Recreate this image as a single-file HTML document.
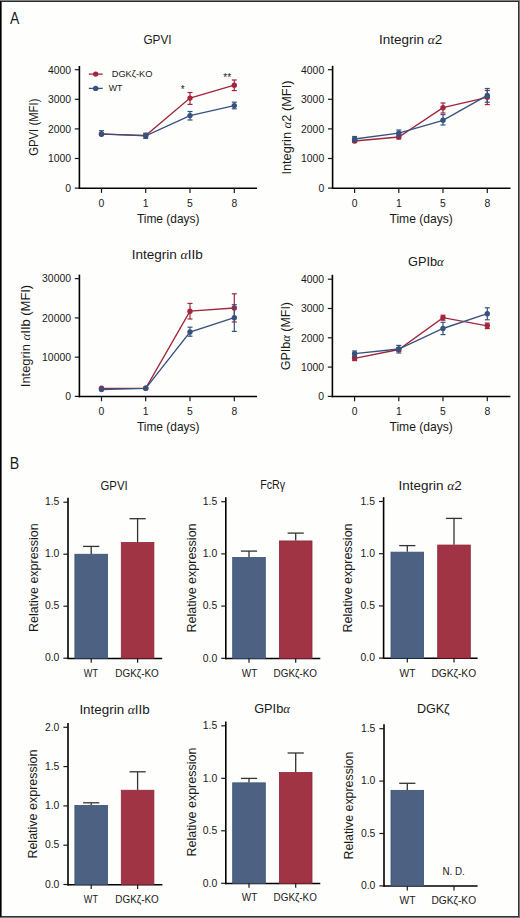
<!DOCTYPE html>
<html><head><meta charset="utf-8"><style>
html,body{margin:0;padding:0;width:520px;height:918px;overflow:hidden;background:#fefefc;}
svg text{font-family:"Liberation Sans", sans-serif;}
</style></head><body>
<svg width="520" height="918" viewBox="0 0 520 918" style="position:absolute;left:0;top:0">
<rect x="0" y="0" width="520" height="918" fill="#fefefc"/>
<rect x="0" y="0" width="1" height="918" fill="#000"/>
<rect x="1" y="0" width="1" height="918" fill="#606060"/>
<rect x="519" y="0" width="1" height="918" fill="#777"/>
<rect x="518" y="0" width="1" height="918" fill="#333"/>
<rect x="0" y="0" width="520" height="1" fill="#808080"/>
<rect x="1" y="1" width="518" height="1" fill="#2b2b2b"/>
<rect x="0" y="917" width="520" height="1" fill="#777"/>
<rect x="1" y="916" width="518" height="1" fill="#333"/>
<line x1="79.40" y1="66.00" x2="79.40" y2="189.00" stroke="#000" stroke-width="1.6"/>
<line x1="78.60" y1="188.30" x2="257.00" y2="188.30" stroke="#000" stroke-width="1.5"/>
<line x1="74.80" y1="188.10" x2="79.40" y2="188.10" stroke="#1a1a1a" stroke-width="1.2"/>
<text x="71.00" y="191.90" font-size="10.4" text-anchor="end" fill="#1a1a1a" >0</text>
<line x1="74.80" y1="158.50" x2="79.40" y2="158.50" stroke="#1a1a1a" stroke-width="1.2"/>
<text x="71.00" y="162.30" font-size="10.4" text-anchor="end" fill="#1a1a1a" >1000</text>
<line x1="74.80" y1="128.90" x2="79.40" y2="128.90" stroke="#1a1a1a" stroke-width="1.2"/>
<text x="71.00" y="132.70" font-size="10.4" text-anchor="end" fill="#1a1a1a" >2000</text>
<line x1="74.80" y1="99.30" x2="79.40" y2="99.30" stroke="#1a1a1a" stroke-width="1.2"/>
<text x="71.00" y="103.10" font-size="10.4" text-anchor="end" fill="#1a1a1a" >3000</text>
<line x1="74.80" y1="69.70" x2="79.40" y2="69.70" stroke="#1a1a1a" stroke-width="1.2"/>
<text x="71.00" y="73.50" font-size="10.4" text-anchor="end" fill="#1a1a1a" >4000</text>
<line x1="101.50" y1="188.10" x2="101.50" y2="192.90" stroke="#1a1a1a" stroke-width="1.2"/>
<text x="101.50" y="206.50" font-size="10.4" text-anchor="middle" fill="#1a1a1a" >0</text>
<line x1="145.70" y1="188.10" x2="145.70" y2="192.90" stroke="#1a1a1a" stroke-width="1.2"/>
<text x="145.70" y="206.50" font-size="10.4" text-anchor="middle" fill="#1a1a1a" >1</text>
<line x1="190.00" y1="188.10" x2="190.00" y2="192.90" stroke="#1a1a1a" stroke-width="1.2"/>
<text x="190.00" y="206.50" font-size="10.4" text-anchor="middle" fill="#1a1a1a" >5</text>
<line x1="234.30" y1="188.10" x2="234.30" y2="192.90" stroke="#1a1a1a" stroke-width="1.2"/>
<text x="234.30" y="206.50" font-size="10.4" text-anchor="middle" fill="#1a1a1a" >8</text>
<path d="M101.50,134.20 L145.70,135.50 L190.00,98.10 L234.30,85.20" fill="none" stroke="#A2263C" stroke-width="1.35"/>
<circle cx="101.50" cy="134.20" r="2.7" fill="#A2263C"/>
<circle cx="145.70" cy="135.50" r="2.7" fill="#A2263C"/>
<line x1="190.00" y1="92.50" x2="190.00" y2="104.40" stroke="#A2263C" stroke-width="1.2"/>
<line x1="187.50" y1="92.50" x2="192.50" y2="92.50" stroke="#A2263C" stroke-width="1.2"/>
<line x1="187.50" y1="104.40" x2="192.50" y2="104.40" stroke="#A2263C" stroke-width="1.2"/>
<circle cx="190.00" cy="98.10" r="2.7" fill="#A2263C"/>
<line x1="234.30" y1="80.00" x2="234.30" y2="90.60" stroke="#A2263C" stroke-width="1.2"/>
<line x1="231.80" y1="80.00" x2="236.80" y2="80.00" stroke="#A2263C" stroke-width="1.2"/>
<line x1="231.80" y1="90.60" x2="236.80" y2="90.60" stroke="#A2263C" stroke-width="1.2"/>
<circle cx="234.30" cy="85.20" r="2.7" fill="#A2263C"/>
<path d="M101.50,133.90 L145.70,135.80 L190.00,115.60 L234.30,105.60" fill="none" stroke="#37527F" stroke-width="1.35"/>
<line x1="101.50" y1="130.70" x2="101.50" y2="135.00" stroke="#37527F" stroke-width="1.2"/>
<line x1="99.00" y1="130.70" x2="104.00" y2="130.70" stroke="#37527F" stroke-width="1.2"/>
<line x1="99.00" y1="135.00" x2="104.00" y2="135.00" stroke="#37527F" stroke-width="1.2"/>
<circle cx="101.50" cy="133.90" r="2.7" fill="#37527F"/>
<line x1="145.70" y1="133.20" x2="145.70" y2="138.40" stroke="#37527F" stroke-width="1.2"/>
<line x1="143.20" y1="133.20" x2="148.20" y2="133.20" stroke="#37527F" stroke-width="1.2"/>
<line x1="143.20" y1="138.40" x2="148.20" y2="138.40" stroke="#37527F" stroke-width="1.2"/>
<circle cx="145.70" cy="135.80" r="2.7" fill="#37527F"/>
<line x1="190.00" y1="111.50" x2="190.00" y2="120.00" stroke="#37527F" stroke-width="1.2"/>
<line x1="187.50" y1="111.50" x2="192.50" y2="111.50" stroke="#37527F" stroke-width="1.2"/>
<line x1="187.50" y1="120.00" x2="192.50" y2="120.00" stroke="#37527F" stroke-width="1.2"/>
<circle cx="190.00" cy="115.60" r="2.7" fill="#37527F"/>
<line x1="234.30" y1="102.20" x2="234.30" y2="108.80" stroke="#37527F" stroke-width="1.2"/>
<line x1="231.80" y1="102.20" x2="236.80" y2="102.20" stroke="#37527F" stroke-width="1.2"/>
<line x1="231.80" y1="108.80" x2="236.80" y2="108.80" stroke="#37527F" stroke-width="1.2"/>
<circle cx="234.30" cy="105.60" r="2.7" fill="#37527F"/>
<line x1="88.80" y1="74.10" x2="102.70" y2="74.10" stroke="#A2263C" stroke-width="1.3"/>
<circle cx="95.7" cy="74.1" r="2.7" fill="#A2263C"/>
<line x1="88.80" y1="88.40" x2="102.70" y2="88.40" stroke="#37527F" stroke-width="1.3"/>
<circle cx="95.7" cy="88.4" r="2.7" fill="#37527F"/>
<text x="182.80" y="93.00" font-size="10" text-anchor="middle" fill="#1a1a1a" >*</text>
<text x="227.20" y="80.50" font-size="10" text-anchor="middle" fill="#1a1a1a" >**</text>
<line x1="332.60" y1="65.80" x2="332.60" y2="189.00" stroke="#000" stroke-width="1.6"/>
<line x1="331.80" y1="188.30" x2="510.50" y2="188.30" stroke="#000" stroke-width="1.5"/>
<line x1="328.00" y1="188.10" x2="332.60" y2="188.10" stroke="#1a1a1a" stroke-width="1.2"/>
<text x="324.20" y="191.90" font-size="10.4" text-anchor="end" fill="#1a1a1a" >0</text>
<line x1="328.00" y1="158.50" x2="332.60" y2="158.50" stroke="#1a1a1a" stroke-width="1.2"/>
<text x="324.20" y="162.30" font-size="10.4" text-anchor="end" fill="#1a1a1a" >1000</text>
<line x1="328.00" y1="128.90" x2="332.60" y2="128.90" stroke="#1a1a1a" stroke-width="1.2"/>
<text x="324.20" y="132.70" font-size="10.4" text-anchor="end" fill="#1a1a1a" >2000</text>
<line x1="328.00" y1="99.30" x2="332.60" y2="99.30" stroke="#1a1a1a" stroke-width="1.2"/>
<text x="324.20" y="103.10" font-size="10.4" text-anchor="end" fill="#1a1a1a" >3000</text>
<line x1="328.00" y1="69.70" x2="332.60" y2="69.70" stroke="#1a1a1a" stroke-width="1.2"/>
<text x="324.20" y="73.50" font-size="10.4" text-anchor="end" fill="#1a1a1a" >4000</text>
<line x1="354.60" y1="188.10" x2="354.60" y2="192.90" stroke="#1a1a1a" stroke-width="1.2"/>
<text x="354.60" y="206.50" font-size="10.4" text-anchor="middle" fill="#1a1a1a" >0</text>
<line x1="398.80" y1="188.10" x2="398.80" y2="192.90" stroke="#1a1a1a" stroke-width="1.2"/>
<text x="398.80" y="206.50" font-size="10.4" text-anchor="middle" fill="#1a1a1a" >1</text>
<line x1="443.00" y1="188.10" x2="443.00" y2="192.90" stroke="#1a1a1a" stroke-width="1.2"/>
<text x="443.00" y="206.50" font-size="10.4" text-anchor="middle" fill="#1a1a1a" >5</text>
<line x1="487.30" y1="188.10" x2="487.30" y2="192.90" stroke="#1a1a1a" stroke-width="1.2"/>
<text x="487.30" y="206.50" font-size="10.4" text-anchor="middle" fill="#1a1a1a" >8</text>
<path d="M354.60,141.00 L398.80,137.00 L443.00,107.70 L487.30,97.30" fill="none" stroke="#A2263C" stroke-width="1.35"/>
<line x1="354.60" y1="139.50" x2="354.60" y2="142.50" stroke="#A2263C" stroke-width="1.2"/>
<line x1="352.10" y1="139.50" x2="357.10" y2="139.50" stroke="#A2263C" stroke-width="1.2"/>
<line x1="352.10" y1="142.50" x2="357.10" y2="142.50" stroke="#A2263C" stroke-width="1.2"/>
<circle cx="354.60" cy="141.00" r="2.7" fill="#A2263C"/>
<line x1="398.80" y1="135.00" x2="398.80" y2="139.00" stroke="#A2263C" stroke-width="1.2"/>
<line x1="396.30" y1="135.00" x2="401.30" y2="135.00" stroke="#A2263C" stroke-width="1.2"/>
<line x1="396.30" y1="139.00" x2="401.30" y2="139.00" stroke="#A2263C" stroke-width="1.2"/>
<circle cx="398.80" cy="137.00" r="2.7" fill="#A2263C"/>
<line x1="443.00" y1="103.00" x2="443.00" y2="113.00" stroke="#A2263C" stroke-width="1.2"/>
<line x1="440.50" y1="103.00" x2="445.50" y2="103.00" stroke="#A2263C" stroke-width="1.2"/>
<line x1="440.50" y1="113.00" x2="445.50" y2="113.00" stroke="#A2263C" stroke-width="1.2"/>
<circle cx="443.00" cy="107.70" r="2.7" fill="#A2263C"/>
<line x1="487.30" y1="90.50" x2="487.30" y2="104.60" stroke="#A2263C" stroke-width="1.2"/>
<line x1="484.80" y1="90.50" x2="489.80" y2="90.50" stroke="#A2263C" stroke-width="1.2"/>
<line x1="484.80" y1="104.60" x2="489.80" y2="104.60" stroke="#A2263C" stroke-width="1.2"/>
<circle cx="487.30" cy="97.30" r="2.7" fill="#A2263C"/>
<path d="M354.60,139.00 L398.80,133.20 L443.00,120.30 L487.30,95.40" fill="none" stroke="#37527F" stroke-width="1.35"/>
<line x1="354.60" y1="136.50" x2="354.60" y2="141.50" stroke="#37527F" stroke-width="1.2"/>
<line x1="352.10" y1="136.50" x2="357.10" y2="136.50" stroke="#37527F" stroke-width="1.2"/>
<line x1="352.10" y1="141.50" x2="357.10" y2="141.50" stroke="#37527F" stroke-width="1.2"/>
<circle cx="354.60" cy="139.00" r="2.7" fill="#37527F"/>
<line x1="398.80" y1="130.00" x2="398.80" y2="136.50" stroke="#37527F" stroke-width="1.2"/>
<line x1="396.30" y1="130.00" x2="401.30" y2="130.00" stroke="#37527F" stroke-width="1.2"/>
<line x1="396.30" y1="136.50" x2="401.30" y2="136.50" stroke="#37527F" stroke-width="1.2"/>
<circle cx="398.80" cy="133.20" r="2.7" fill="#37527F"/>
<line x1="443.00" y1="114.60" x2="443.00" y2="125.00" stroke="#37527F" stroke-width="1.2"/>
<line x1="440.50" y1="114.60" x2="445.50" y2="114.60" stroke="#37527F" stroke-width="1.2"/>
<line x1="440.50" y1="125.00" x2="445.50" y2="125.00" stroke="#37527F" stroke-width="1.2"/>
<circle cx="443.00" cy="120.30" r="2.7" fill="#37527F"/>
<line x1="487.30" y1="88.50" x2="487.30" y2="102.30" stroke="#37527F" stroke-width="1.2"/>
<line x1="484.80" y1="88.50" x2="489.80" y2="88.50" stroke="#37527F" stroke-width="1.2"/>
<line x1="484.80" y1="102.30" x2="489.80" y2="102.30" stroke="#37527F" stroke-width="1.2"/>
<circle cx="487.30" cy="95.40" r="2.7" fill="#37527F"/>
<line x1="79.40" y1="274.60" x2="79.40" y2="397.30" stroke="#000" stroke-width="1.6"/>
<line x1="78.60" y1="396.60" x2="257.00" y2="396.60" stroke="#000" stroke-width="1.5"/>
<line x1="74.80" y1="396.40" x2="79.40" y2="396.40" stroke="#1a1a1a" stroke-width="1.2"/>
<text x="71.00" y="400.20" font-size="10.4" text-anchor="end" fill="#1a1a1a" >0</text>
<line x1="74.80" y1="357.15" x2="79.40" y2="357.15" stroke="#1a1a1a" stroke-width="1.2"/>
<text x="71.00" y="360.95" font-size="10.4" text-anchor="end" fill="#1a1a1a" >10000</text>
<line x1="74.80" y1="317.90" x2="79.40" y2="317.90" stroke="#1a1a1a" stroke-width="1.2"/>
<text x="71.00" y="321.70" font-size="10.4" text-anchor="end" fill="#1a1a1a" >20000</text>
<line x1="74.80" y1="278.65" x2="79.40" y2="278.65" stroke="#1a1a1a" stroke-width="1.2"/>
<text x="71.00" y="282.45" font-size="10.4" text-anchor="end" fill="#1a1a1a" >30000</text>
<line x1="101.50" y1="396.40" x2="101.50" y2="401.20" stroke="#1a1a1a" stroke-width="1.2"/>
<text x="101.50" y="414.80" font-size="10.4" text-anchor="middle" fill="#1a1a1a" >0</text>
<line x1="145.70" y1="396.40" x2="145.70" y2="401.20" stroke="#1a1a1a" stroke-width="1.2"/>
<text x="145.70" y="414.80" font-size="10.4" text-anchor="middle" fill="#1a1a1a" >1</text>
<line x1="190.00" y1="396.40" x2="190.00" y2="401.20" stroke="#1a1a1a" stroke-width="1.2"/>
<text x="190.00" y="414.80" font-size="10.4" text-anchor="middle" fill="#1a1a1a" >5</text>
<line x1="234.30" y1="396.40" x2="234.30" y2="401.20" stroke="#1a1a1a" stroke-width="1.2"/>
<text x="234.30" y="414.80" font-size="10.4" text-anchor="middle" fill="#1a1a1a" >8</text>
<path d="M101.50,388.30 L145.70,388.30 L190.00,311.20 L234.30,308.00" fill="none" stroke="#A2263C" stroke-width="1.35"/>
<circle cx="101.50" cy="388.30" r="2.7" fill="#A2263C"/>
<circle cx="145.70" cy="388.30" r="2.7" fill="#A2263C"/>
<line x1="190.00" y1="303.40" x2="190.00" y2="319.00" stroke="#A2263C" stroke-width="1.2"/>
<line x1="187.50" y1="303.40" x2="192.50" y2="303.40" stroke="#A2263C" stroke-width="1.2"/>
<line x1="187.50" y1="319.00" x2="192.50" y2="319.00" stroke="#A2263C" stroke-width="1.2"/>
<circle cx="190.00" cy="311.20" r="2.7" fill="#A2263C"/>
<line x1="234.30" y1="293.80" x2="234.30" y2="322.00" stroke="#A2263C" stroke-width="1.2"/>
<line x1="231.80" y1="293.80" x2="236.80" y2="293.80" stroke="#A2263C" stroke-width="1.2"/>
<line x1="231.80" y1="322.00" x2="236.80" y2="322.00" stroke="#A2263C" stroke-width="1.2"/>
<circle cx="234.30" cy="308.00" r="2.7" fill="#A2263C"/>
<path d="M101.50,389.50 L145.70,388.30 L190.00,332.00 L234.30,317.70" fill="none" stroke="#37527F" stroke-width="1.35"/>
<circle cx="101.50" cy="389.50" r="2.7" fill="#37527F"/>
<circle cx="145.70" cy="388.30" r="2.7" fill="#37527F"/>
<line x1="190.00" y1="327.20" x2="190.00" y2="336.20" stroke="#37527F" stroke-width="1.2"/>
<line x1="187.50" y1="327.20" x2="192.50" y2="327.20" stroke="#37527F" stroke-width="1.2"/>
<line x1="187.50" y1="336.20" x2="192.50" y2="336.20" stroke="#37527F" stroke-width="1.2"/>
<circle cx="190.00" cy="332.00" r="2.7" fill="#37527F"/>
<line x1="234.30" y1="304.70" x2="234.30" y2="331.40" stroke="#37527F" stroke-width="1.2"/>
<line x1="231.80" y1="304.70" x2="236.80" y2="304.70" stroke="#37527F" stroke-width="1.2"/>
<line x1="231.80" y1="331.40" x2="236.80" y2="331.40" stroke="#37527F" stroke-width="1.2"/>
<circle cx="234.30" cy="317.70" r="2.7" fill="#37527F"/>
<line x1="332.40" y1="274.80" x2="332.40" y2="397.30" stroke="#000" stroke-width="1.6"/>
<line x1="331.60" y1="396.60" x2="510.40" y2="396.60" stroke="#000" stroke-width="1.5"/>
<line x1="327.80" y1="396.40" x2="332.40" y2="396.40" stroke="#1a1a1a" stroke-width="1.2"/>
<text x="324.00" y="400.20" font-size="10.4" text-anchor="end" fill="#1a1a1a" >0</text>
<line x1="327.80" y1="367.10" x2="332.40" y2="367.10" stroke="#1a1a1a" stroke-width="1.2"/>
<text x="324.00" y="370.90" font-size="10.4" text-anchor="end" fill="#1a1a1a" >1000</text>
<line x1="327.80" y1="337.80" x2="332.40" y2="337.80" stroke="#1a1a1a" stroke-width="1.2"/>
<text x="324.00" y="341.60" font-size="10.4" text-anchor="end" fill="#1a1a1a" >2000</text>
<line x1="327.80" y1="308.50" x2="332.40" y2="308.50" stroke="#1a1a1a" stroke-width="1.2"/>
<text x="324.00" y="312.30" font-size="10.4" text-anchor="end" fill="#1a1a1a" >3000</text>
<line x1="327.80" y1="279.20" x2="332.40" y2="279.20" stroke="#1a1a1a" stroke-width="1.2"/>
<text x="324.00" y="283.00" font-size="10.4" text-anchor="end" fill="#1a1a1a" >4000</text>
<line x1="354.60" y1="396.40" x2="354.60" y2="401.20" stroke="#1a1a1a" stroke-width="1.2"/>
<text x="354.60" y="414.80" font-size="10.4" text-anchor="middle" fill="#1a1a1a" >0</text>
<line x1="398.80" y1="396.40" x2="398.80" y2="401.20" stroke="#1a1a1a" stroke-width="1.2"/>
<text x="398.80" y="414.80" font-size="10.4" text-anchor="middle" fill="#1a1a1a" >1</text>
<line x1="443.00" y1="396.40" x2="443.00" y2="401.20" stroke="#1a1a1a" stroke-width="1.2"/>
<text x="443.00" y="414.80" font-size="10.4" text-anchor="middle" fill="#1a1a1a" >5</text>
<line x1="487.30" y1="396.40" x2="487.30" y2="401.20" stroke="#1a1a1a" stroke-width="1.2"/>
<text x="487.30" y="414.80" font-size="10.4" text-anchor="middle" fill="#1a1a1a" >8</text>
<path d="M354.60,358.30 L398.80,349.50 L443.00,317.60 L487.30,325.80" fill="none" stroke="#A2263C" stroke-width="1.35"/>
<line x1="354.60" y1="356.00" x2="354.60" y2="360.60" stroke="#A2263C" stroke-width="1.2"/>
<line x1="352.10" y1="356.00" x2="357.10" y2="356.00" stroke="#A2263C" stroke-width="1.2"/>
<line x1="352.10" y1="360.60" x2="357.10" y2="360.60" stroke="#A2263C" stroke-width="1.2"/>
<circle cx="354.60" cy="358.30" r="2.7" fill="#A2263C"/>
<line x1="398.80" y1="347.50" x2="398.80" y2="351.50" stroke="#A2263C" stroke-width="1.2"/>
<line x1="396.30" y1="347.50" x2="401.30" y2="347.50" stroke="#A2263C" stroke-width="1.2"/>
<line x1="396.30" y1="351.50" x2="401.30" y2="351.50" stroke="#A2263C" stroke-width="1.2"/>
<circle cx="398.80" cy="349.50" r="2.7" fill="#A2263C"/>
<line x1="443.00" y1="315.20" x2="443.00" y2="320.20" stroke="#A2263C" stroke-width="1.2"/>
<line x1="440.50" y1="315.20" x2="445.50" y2="315.20" stroke="#A2263C" stroke-width="1.2"/>
<line x1="440.50" y1="320.20" x2="445.50" y2="320.20" stroke="#A2263C" stroke-width="1.2"/>
<circle cx="443.00" cy="317.60" r="2.7" fill="#A2263C"/>
<line x1="487.30" y1="323.10" x2="487.30" y2="328.60" stroke="#A2263C" stroke-width="1.2"/>
<line x1="484.80" y1="323.10" x2="489.80" y2="323.10" stroke="#A2263C" stroke-width="1.2"/>
<line x1="484.80" y1="328.60" x2="489.80" y2="328.60" stroke="#A2263C" stroke-width="1.2"/>
<circle cx="487.30" cy="325.80" r="2.7" fill="#A2263C"/>
<path d="M354.60,353.70 L398.80,349.00 L443.00,328.50 L487.30,313.70" fill="none" stroke="#37527F" stroke-width="1.35"/>
<line x1="354.60" y1="351.00" x2="354.60" y2="356.50" stroke="#37527F" stroke-width="1.2"/>
<line x1="352.10" y1="351.00" x2="357.10" y2="351.00" stroke="#37527F" stroke-width="1.2"/>
<line x1="352.10" y1="356.50" x2="357.10" y2="356.50" stroke="#37527F" stroke-width="1.2"/>
<circle cx="354.60" cy="353.70" r="2.7" fill="#37527F"/>
<line x1="398.80" y1="345.40" x2="398.80" y2="353.00" stroke="#37527F" stroke-width="1.2"/>
<line x1="396.30" y1="345.40" x2="401.30" y2="345.40" stroke="#37527F" stroke-width="1.2"/>
<line x1="396.30" y1="353.00" x2="401.30" y2="353.00" stroke="#37527F" stroke-width="1.2"/>
<circle cx="398.80" cy="349.00" r="2.7" fill="#37527F"/>
<line x1="443.00" y1="322.30" x2="443.00" y2="334.60" stroke="#37527F" stroke-width="1.2"/>
<line x1="440.50" y1="322.30" x2="445.50" y2="322.30" stroke="#37527F" stroke-width="1.2"/>
<line x1="440.50" y1="334.60" x2="445.50" y2="334.60" stroke="#37527F" stroke-width="1.2"/>
<circle cx="443.00" cy="328.50" r="2.7" fill="#37527F"/>
<line x1="487.30" y1="307.80" x2="487.30" y2="319.80" stroke="#37527F" stroke-width="1.2"/>
<line x1="484.80" y1="307.80" x2="489.80" y2="307.80" stroke="#37527F" stroke-width="1.2"/>
<line x1="484.80" y1="319.80" x2="489.80" y2="319.80" stroke="#37527F" stroke-width="1.2"/>
<circle cx="487.30" cy="313.70" r="2.7" fill="#37527F"/>
<line x1="68.00" y1="497.80" x2="68.00" y2="659.10" stroke="#000" stroke-width="1.6"/>
<line x1="67.20" y1="658.40" x2="162.20" y2="658.40" stroke="#000" stroke-width="1.5"/>
<line x1="63.40" y1="658.20" x2="68.00" y2="658.20" stroke="#1a1a1a" stroke-width="1.2"/>
<text x="59.40" y="661.40" font-size="10.4" text-anchor="end" fill="#1a1a1a" >0.0</text>
<line x1="63.40" y1="606.20" x2="68.00" y2="606.20" stroke="#1a1a1a" stroke-width="1.2"/>
<text x="59.40" y="609.40" font-size="10.4" text-anchor="end" fill="#1a1a1a" >0.5</text>
<line x1="63.40" y1="554.20" x2="68.00" y2="554.20" stroke="#1a1a1a" stroke-width="1.2"/>
<text x="59.40" y="557.40" font-size="10.4" text-anchor="end" fill="#1a1a1a" >1.0</text>
<line x1="63.40" y1="502.20" x2="68.00" y2="502.20" stroke="#1a1a1a" stroke-width="1.2"/>
<text x="59.40" y="505.40" font-size="10.4" text-anchor="end" fill="#1a1a1a" >1.5</text>
<line x1="91.20" y1="546.40" x2="91.20" y2="553.90" stroke="#333" stroke-width="1.3"/>
<line x1="83.10" y1="546.40" x2="99.30" y2="546.40" stroke="#333" stroke-width="1.3"/>
<rect x="74.90" y="554.25" width="32.60" height="103.95" fill="#4D6282" stroke="#38507A" stroke-width="0.8"/>
<line x1="137.60" y1="518.70" x2="137.60" y2="542.20" stroke="#333" stroke-width="1.3"/>
<line x1="129.50" y1="518.70" x2="145.70" y2="518.70" stroke="#333" stroke-width="1.3"/>
<rect x="121.30" y="542.55" width="32.60" height="115.65" fill="#A03445" stroke="#8E2538" stroke-width="0.8"/>
<line x1="91.20" y1="658.20" x2="91.20" y2="662.70" stroke="#1a1a1a" stroke-width="1.2"/>
<line x1="137.60" y1="658.20" x2="137.60" y2="662.70" stroke="#1a1a1a" stroke-width="1.2"/>
<line x1="225.80" y1="497.30" x2="225.80" y2="659.20" stroke="#000" stroke-width="1.6"/>
<line x1="225.00" y1="658.50" x2="320.30" y2="658.50" stroke="#000" stroke-width="1.5"/>
<line x1="221.20" y1="658.30" x2="225.80" y2="658.30" stroke="#1a1a1a" stroke-width="1.2"/>
<text x="217.20" y="661.50" font-size="10.4" text-anchor="end" fill="#1a1a1a" >0.0</text>
<line x1="221.20" y1="606.10" x2="225.80" y2="606.10" stroke="#1a1a1a" stroke-width="1.2"/>
<text x="217.20" y="609.30" font-size="10.4" text-anchor="end" fill="#1a1a1a" >0.5</text>
<line x1="221.20" y1="553.90" x2="225.80" y2="553.90" stroke="#1a1a1a" stroke-width="1.2"/>
<text x="217.20" y="557.10" font-size="10.4" text-anchor="end" fill="#1a1a1a" >1.0</text>
<line x1="221.20" y1="501.70" x2="225.80" y2="501.70" stroke="#1a1a1a" stroke-width="1.2"/>
<text x="217.20" y="504.90" font-size="10.4" text-anchor="end" fill="#1a1a1a" >1.5</text>
<line x1="249.00" y1="551.10" x2="249.00" y2="557.10" stroke="#333" stroke-width="1.3"/>
<line x1="240.90" y1="551.10" x2="257.10" y2="551.10" stroke="#333" stroke-width="1.3"/>
<rect x="232.70" y="557.45" width="32.60" height="100.85" fill="#4D6282" stroke="#38507A" stroke-width="0.8"/>
<line x1="295.70" y1="533.10" x2="295.70" y2="540.60" stroke="#333" stroke-width="1.3"/>
<line x1="287.60" y1="533.10" x2="303.80" y2="533.10" stroke="#333" stroke-width="1.3"/>
<rect x="279.40" y="540.95" width="32.60" height="117.35" fill="#A03445" stroke="#8E2538" stroke-width="0.8"/>
<line x1="249.00" y1="658.30" x2="249.00" y2="662.80" stroke="#1a1a1a" stroke-width="1.2"/>
<line x1="295.70" y1="658.30" x2="295.70" y2="662.80" stroke="#1a1a1a" stroke-width="1.2"/>
<line x1="383.60" y1="497.10" x2="383.60" y2="659.00" stroke="#000" stroke-width="1.6"/>
<line x1="382.80" y1="658.30" x2="477.60" y2="658.30" stroke="#000" stroke-width="1.5"/>
<line x1="379.00" y1="658.10" x2="383.60" y2="658.10" stroke="#1a1a1a" stroke-width="1.2"/>
<text x="375.00" y="661.30" font-size="10.4" text-anchor="end" fill="#1a1a1a" >0.0</text>
<line x1="379.00" y1="605.90" x2="383.60" y2="605.90" stroke="#1a1a1a" stroke-width="1.2"/>
<text x="375.00" y="609.10" font-size="10.4" text-anchor="end" fill="#1a1a1a" >0.5</text>
<line x1="379.00" y1="553.70" x2="383.60" y2="553.70" stroke="#1a1a1a" stroke-width="1.2"/>
<text x="375.00" y="556.90" font-size="10.4" text-anchor="end" fill="#1a1a1a" >1.0</text>
<line x1="379.00" y1="501.50" x2="383.60" y2="501.50" stroke="#1a1a1a" stroke-width="1.2"/>
<text x="375.00" y="504.70" font-size="10.4" text-anchor="end" fill="#1a1a1a" >1.5</text>
<line x1="407.30" y1="545.60" x2="407.30" y2="551.80" stroke="#333" stroke-width="1.3"/>
<line x1="399.20" y1="545.60" x2="415.40" y2="545.60" stroke="#333" stroke-width="1.3"/>
<rect x="391.00" y="552.15" width="32.60" height="105.95" fill="#4D6282" stroke="#38507A" stroke-width="0.8"/>
<line x1="454.00" y1="518.40" x2="454.00" y2="544.70" stroke="#333" stroke-width="1.3"/>
<line x1="445.90" y1="518.40" x2="462.10" y2="518.40" stroke="#333" stroke-width="1.3"/>
<rect x="437.70" y="545.05" width="32.60" height="113.05" fill="#A03445" stroke="#8E2538" stroke-width="0.8"/>
<line x1="407.30" y1="658.10" x2="407.30" y2="662.60" stroke="#1a1a1a" stroke-width="1.2"/>
<line x1="454.00" y1="658.10" x2="454.00" y2="662.60" stroke="#1a1a1a" stroke-width="1.2"/>
<line x1="68.00" y1="722.90" x2="68.00" y2="885.40" stroke="#000" stroke-width="1.6"/>
<line x1="67.20" y1="884.70" x2="162.40" y2="884.70" stroke="#000" stroke-width="1.5"/>
<line x1="63.40" y1="884.50" x2="68.00" y2="884.50" stroke="#1a1a1a" stroke-width="1.2"/>
<text x="59.40" y="887.70" font-size="10.4" text-anchor="end" fill="#1a1a1a" >0.0</text>
<line x1="63.40" y1="845.20" x2="68.00" y2="845.20" stroke="#1a1a1a" stroke-width="1.2"/>
<text x="59.40" y="848.40" font-size="10.4" text-anchor="end" fill="#1a1a1a" >0.5</text>
<line x1="63.40" y1="805.90" x2="68.00" y2="805.90" stroke="#1a1a1a" stroke-width="1.2"/>
<text x="59.40" y="809.10" font-size="10.4" text-anchor="end" fill="#1a1a1a" >1.0</text>
<line x1="63.40" y1="766.60" x2="68.00" y2="766.60" stroke="#1a1a1a" stroke-width="1.2"/>
<text x="59.40" y="769.80" font-size="10.4" text-anchor="end" fill="#1a1a1a" >1.5</text>
<line x1="63.40" y1="727.30" x2="68.00" y2="727.30" stroke="#1a1a1a" stroke-width="1.2"/>
<text x="59.40" y="730.50" font-size="10.4" text-anchor="end" fill="#1a1a1a" >2.0</text>
<line x1="91.20" y1="802.80" x2="91.20" y2="805.10" stroke="#333" stroke-width="1.3"/>
<line x1="83.10" y1="802.80" x2="99.30" y2="802.80" stroke="#333" stroke-width="1.3"/>
<rect x="74.90" y="805.45" width="32.60" height="79.05" fill="#4D6282" stroke="#38507A" stroke-width="0.8"/>
<line x1="137.60" y1="771.80" x2="137.60" y2="789.90" stroke="#333" stroke-width="1.3"/>
<line x1="129.50" y1="771.80" x2="145.70" y2="771.80" stroke="#333" stroke-width="1.3"/>
<rect x="121.30" y="790.25" width="32.60" height="94.25" fill="#A03445" stroke="#8E2538" stroke-width="0.8"/>
<line x1="91.20" y1="884.50" x2="91.20" y2="889.00" stroke="#1a1a1a" stroke-width="1.2"/>
<line x1="137.60" y1="884.50" x2="137.60" y2="889.00" stroke="#1a1a1a" stroke-width="1.2"/>
<line x1="225.80" y1="721.40" x2="225.80" y2="884.20" stroke="#000" stroke-width="1.6"/>
<line x1="225.00" y1="883.50" x2="320.30" y2="883.50" stroke="#000" stroke-width="1.5"/>
<line x1="221.20" y1="883.30" x2="225.80" y2="883.30" stroke="#1a1a1a" stroke-width="1.2"/>
<text x="217.20" y="886.50" font-size="10.4" text-anchor="end" fill="#1a1a1a" >0.0</text>
<line x1="221.20" y1="830.80" x2="225.80" y2="830.80" stroke="#1a1a1a" stroke-width="1.2"/>
<text x="217.20" y="834.00" font-size="10.4" text-anchor="end" fill="#1a1a1a" >0.5</text>
<line x1="221.20" y1="778.30" x2="225.80" y2="778.30" stroke="#1a1a1a" stroke-width="1.2"/>
<text x="217.20" y="781.50" font-size="10.4" text-anchor="end" fill="#1a1a1a" >1.0</text>
<line x1="221.20" y1="725.80" x2="225.80" y2="725.80" stroke="#1a1a1a" stroke-width="1.2"/>
<text x="217.20" y="729.00" font-size="10.4" text-anchor="end" fill="#1a1a1a" >1.5</text>
<line x1="249.00" y1="778.40" x2="249.00" y2="782.50" stroke="#333" stroke-width="1.3"/>
<line x1="240.90" y1="778.40" x2="257.10" y2="778.40" stroke="#333" stroke-width="1.3"/>
<rect x="232.70" y="782.85" width="32.60" height="100.45" fill="#4D6282" stroke="#38507A" stroke-width="0.8"/>
<line x1="295.70" y1="753.00" x2="295.70" y2="772.20" stroke="#333" stroke-width="1.3"/>
<line x1="287.60" y1="753.00" x2="303.80" y2="753.00" stroke="#333" stroke-width="1.3"/>
<rect x="279.40" y="772.55" width="32.60" height="110.75" fill="#A03445" stroke="#8E2538" stroke-width="0.8"/>
<line x1="249.00" y1="883.30" x2="249.00" y2="887.80" stroke="#1a1a1a" stroke-width="1.2"/>
<line x1="295.70" y1="883.30" x2="295.70" y2="887.80" stroke="#1a1a1a" stroke-width="1.2"/>
<line x1="384.00" y1="724.30" x2="384.00" y2="886.80" stroke="#000" stroke-width="1.6"/>
<line x1="383.20" y1="886.10" x2="477.60" y2="886.10" stroke="#000" stroke-width="1.5"/>
<line x1="379.40" y1="885.90" x2="384.00" y2="885.90" stroke="#1a1a1a" stroke-width="1.2"/>
<text x="375.40" y="889.10" font-size="10.4" text-anchor="end" fill="#1a1a1a" >0.0</text>
<line x1="379.40" y1="833.50" x2="384.00" y2="833.50" stroke="#1a1a1a" stroke-width="1.2"/>
<text x="375.40" y="836.70" font-size="10.4" text-anchor="end" fill="#1a1a1a" >0.5</text>
<line x1="379.40" y1="781.10" x2="384.00" y2="781.10" stroke="#1a1a1a" stroke-width="1.2"/>
<text x="375.40" y="784.30" font-size="10.4" text-anchor="end" fill="#1a1a1a" >1.0</text>
<line x1="379.40" y1="728.70" x2="384.00" y2="728.70" stroke="#1a1a1a" stroke-width="1.2"/>
<text x="375.40" y="731.90" font-size="10.4" text-anchor="end" fill="#1a1a1a" >1.5</text>
<line x1="407.30" y1="783.30" x2="407.30" y2="790.00" stroke="#333" stroke-width="1.3"/>
<line x1="399.20" y1="783.30" x2="415.40" y2="783.30" stroke="#333" stroke-width="1.3"/>
<rect x="391.00" y="790.35" width="32.60" height="95.55" fill="#4D6282" stroke="#38507A" stroke-width="0.8"/>
<line x1="407.30" y1="885.90" x2="407.30" y2="890.40" stroke="#1a1a1a" stroke-width="1.2"/>
<line x1="454.00" y1="885.90" x2="454.00" y2="890.40" stroke="#1a1a1a" stroke-width="1.2"/>
<text x="10.00" y="23.80" font-size="15.8" text-anchor="start" fill="#1a1a1a" textLength="9.33" lengthAdjust="spacingAndGlyphs" >A</text>
<text x="9.80" y="469.20" font-size="15.8" text-anchor="start" fill="#1a1a1a" textLength="9.46" lengthAdjust="spacingAndGlyphs" >B</text>
<text x="143.40" y="43.70" font-size="12.6" text-anchor="start" fill="#1a1a1a" textLength="28.19" lengthAdjust="spacingAndGlyphs" >GPVI</text>
<text x="379.00" y="43.80" font-size="12.6" text-anchor="start" fill="#1a1a1a" textLength="63.24" lengthAdjust="spacingAndGlyphs" >Integrin <tspan font-family="Liberation Serif" font-style="italic">&#945;</tspan>2</text>
<text x="131.70" y="258.50" font-size="12.6" text-anchor="start" fill="#1a1a1a" textLength="71.05" lengthAdjust="spacingAndGlyphs" >Integrin <tspan font-family="Liberation Serif" font-style="italic">&#945;</tspan>IIb</text>
<text x="408.00" y="265.60" font-size="12.6" text-anchor="start" fill="#1a1a1a" textLength="35.76" lengthAdjust="spacingAndGlyphs" >GPIb<tspan font-family="Liberation Serif" font-style="italic">&#945;</tspan></text>
<text x="100.50" y="489.50" font-size="12.4" text-anchor="start" fill="#1a1a1a" textLength="27.09" lengthAdjust="spacingAndGlyphs" >GPVI</text>
<text x="260.20" y="489.30" font-size="12.4" text-anchor="start" fill="#1a1a1a" textLength="25.02" lengthAdjust="spacingAndGlyphs" >FcR&#947;</text>
<text x="398.50" y="489.60" font-size="12.4" text-anchor="start" fill="#1a1a1a" textLength="63.31" lengthAdjust="spacingAndGlyphs" >Integrin <tspan font-family="Liberation Serif" font-style="italic">&#945;</tspan>2</text>
<text x="79.40" y="713.50" font-size="12.4" text-anchor="start" fill="#1a1a1a" textLength="70.37" lengthAdjust="spacingAndGlyphs" >Integrin <tspan font-family="Liberation Serif" font-style="italic">&#945;</tspan>IIb</text>
<text x="254.20" y="713.00" font-size="12.4" text-anchor="start" fill="#1a1a1a" textLength="35.79" lengthAdjust="spacingAndGlyphs" >GPIb<tspan font-family="Liberation Serif" font-style="italic">&#945;</tspan></text>
<text x="416.90" y="713.00" font-size="12.4" text-anchor="start" fill="#1a1a1a" textLength="32.75" lengthAdjust="spacingAndGlyphs" >DGK&#950;</text>
<text x="38.00" y="155.80" font-size="12.4" text-anchor="start" fill="#1a1a1a" textLength="57.2" lengthAdjust="spacingAndGlyphs" transform="rotate(-90 38.00 155.80)" >GPVI (MFI)</text>
<text x="290.60" y="174.60" font-size="12.4" text-anchor="start" fill="#1a1a1a" textLength="94.09" lengthAdjust="spacingAndGlyphs" transform="rotate(-90 290.60 174.60)" >Integrin <tspan font-family="Liberation Serif" font-style="italic">&#945;</tspan>2 (MFI)</text>
<text x="30.00" y="387.20" font-size="12.4" text-anchor="start" fill="#1a1a1a" textLength="102.4" lengthAdjust="spacingAndGlyphs" transform="rotate(-90 30.00 387.20)" >Integrin <tspan font-family="Liberation Serif" font-style="italic">&#945;</tspan>IIb (MFI)</text>
<text x="290.00" y="370.20" font-size="12.4" text-anchor="start" fill="#1a1a1a" textLength="68.22" lengthAdjust="spacingAndGlyphs" transform="rotate(-90 290.00 370.20)" >GPIb<tspan font-family="Liberation Serif" font-style="italic">&#945;</tspan> (MFI)</text>
<text x="38.20" y="632.00" font-size="12.8" text-anchor="start" fill="#1a1a1a" textLength="108.65" lengthAdjust="spacingAndGlyphs" transform="rotate(-90 38.20 632.00)" >Relative expression</text>
<text x="195.90" y="632.50" font-size="12.8" text-anchor="start" fill="#1a1a1a" textLength="109.05" lengthAdjust="spacingAndGlyphs" transform="rotate(-90 195.90 632.50)" >Relative expression</text>
<text x="352.40" y="632.50" font-size="12.8" text-anchor="start" fill="#1a1a1a" textLength="109.05" lengthAdjust="spacingAndGlyphs" transform="rotate(-90 352.40 632.50)" >Relative expression</text>
<text x="37.40" y="858.60" font-size="12.8" text-anchor="start" fill="#1a1a1a" textLength="109.05" lengthAdjust="spacingAndGlyphs" transform="rotate(-90 37.40 858.60)" >Relative expression</text>
<text x="195.90" y="856.50" font-size="12.8" text-anchor="start" fill="#1a1a1a" textLength="108.85" lengthAdjust="spacingAndGlyphs" transform="rotate(-90 195.90 856.50)" >Relative expression</text>
<text x="353.30" y="859.50" font-size="12.8" text-anchor="start" fill="#1a1a1a" textLength="107.83" lengthAdjust="spacingAndGlyphs" transform="rotate(-90 353.30 859.50)" >Relative expression</text>
<text x="136.90" y="223.20" font-size="11.9" text-anchor="start" fill="#1a1a1a" textLength="62.53" lengthAdjust="spacingAndGlyphs" >Time (days)</text>
<text x="389.50" y="222.90" font-size="11.9" text-anchor="start" fill="#1a1a1a" textLength="63.34" lengthAdjust="spacingAndGlyphs" >Time (days)</text>
<text x="136.90" y="430.80" font-size="11.9" text-anchor="start" fill="#1a1a1a" textLength="62.53" lengthAdjust="spacingAndGlyphs" >Time (days)</text>
<text x="389.50" y="430.80" font-size="11.9" text-anchor="start" fill="#1a1a1a" textLength="63.34" lengthAdjust="spacingAndGlyphs" >Time (days)</text>
<text x="83.80" y="676.90" font-size="10.0" text-anchor="start" fill="#1a1a1a" textLength="14.15" lengthAdjust="spacingAndGlyphs" >WT</text>
<text x="115.30" y="676.90" font-size="10.0" text-anchor="start" fill="#1a1a1a" textLength="43.46" lengthAdjust="spacingAndGlyphs" >DGK&#950;-KO</text>
<text x="241.80" y="677.10" font-size="10.0" text-anchor="start" fill="#1a1a1a" textLength="15.55" lengthAdjust="spacingAndGlyphs" >WT</text>
<text x="273.60" y="677.10" font-size="10.0" text-anchor="start" fill="#1a1a1a" textLength="43.44" lengthAdjust="spacingAndGlyphs" >DGK&#950;-KO</text>
<text x="399.50" y="677.10" font-size="10.0" text-anchor="start" fill="#1a1a1a" textLength="15.99" lengthAdjust="spacingAndGlyphs" >WT</text>
<text x="431.40" y="677.10" font-size="10.0" text-anchor="start" fill="#1a1a1a" textLength="44.71" lengthAdjust="spacingAndGlyphs" >DGK&#950;-KO</text>
<text x="83.80" y="902.80" font-size="10.0" text-anchor="start" fill="#1a1a1a" textLength="14.15" lengthAdjust="spacingAndGlyphs" >WT</text>
<text x="115.30" y="902.80" font-size="10.0" text-anchor="start" fill="#1a1a1a" textLength="43.46" lengthAdjust="spacingAndGlyphs" >DGK&#950;-KO</text>
<text x="241.80" y="900.90" font-size="10.0" text-anchor="start" fill="#1a1a1a" textLength="15.55" lengthAdjust="spacingAndGlyphs" >WT</text>
<text x="273.60" y="900.90" font-size="10.0" text-anchor="start" fill="#1a1a1a" textLength="43.24" lengthAdjust="spacingAndGlyphs" >DGK&#950;-KO</text>
<text x="399.50" y="903.70" font-size="10.0" text-anchor="start" fill="#1a1a1a" textLength="15.99" lengthAdjust="spacingAndGlyphs" >WT</text>
<text x="431.40" y="903.70" font-size="10.0" text-anchor="start" fill="#1a1a1a" textLength="44.71" lengthAdjust="spacingAndGlyphs" >DGK&#950;-KO</text>
<text x="111.70" y="77.30" font-size="9.8" text-anchor="start" fill="#1a1a1a" textLength="40.68" lengthAdjust="spacingAndGlyphs" >DGK&#950;-KO</text>
<text x="108.80" y="91.20" font-size="9.8" text-anchor="start" fill="#1a1a1a" textLength="13.64" lengthAdjust="spacingAndGlyphs" >WT</text>
<text x="442.50" y="875.20" font-size="10.0" text-anchor="start" fill="#1a1a1a" textLength="22.35" lengthAdjust="spacingAndGlyphs" >N. D.</text>
</svg>
</body></html>
